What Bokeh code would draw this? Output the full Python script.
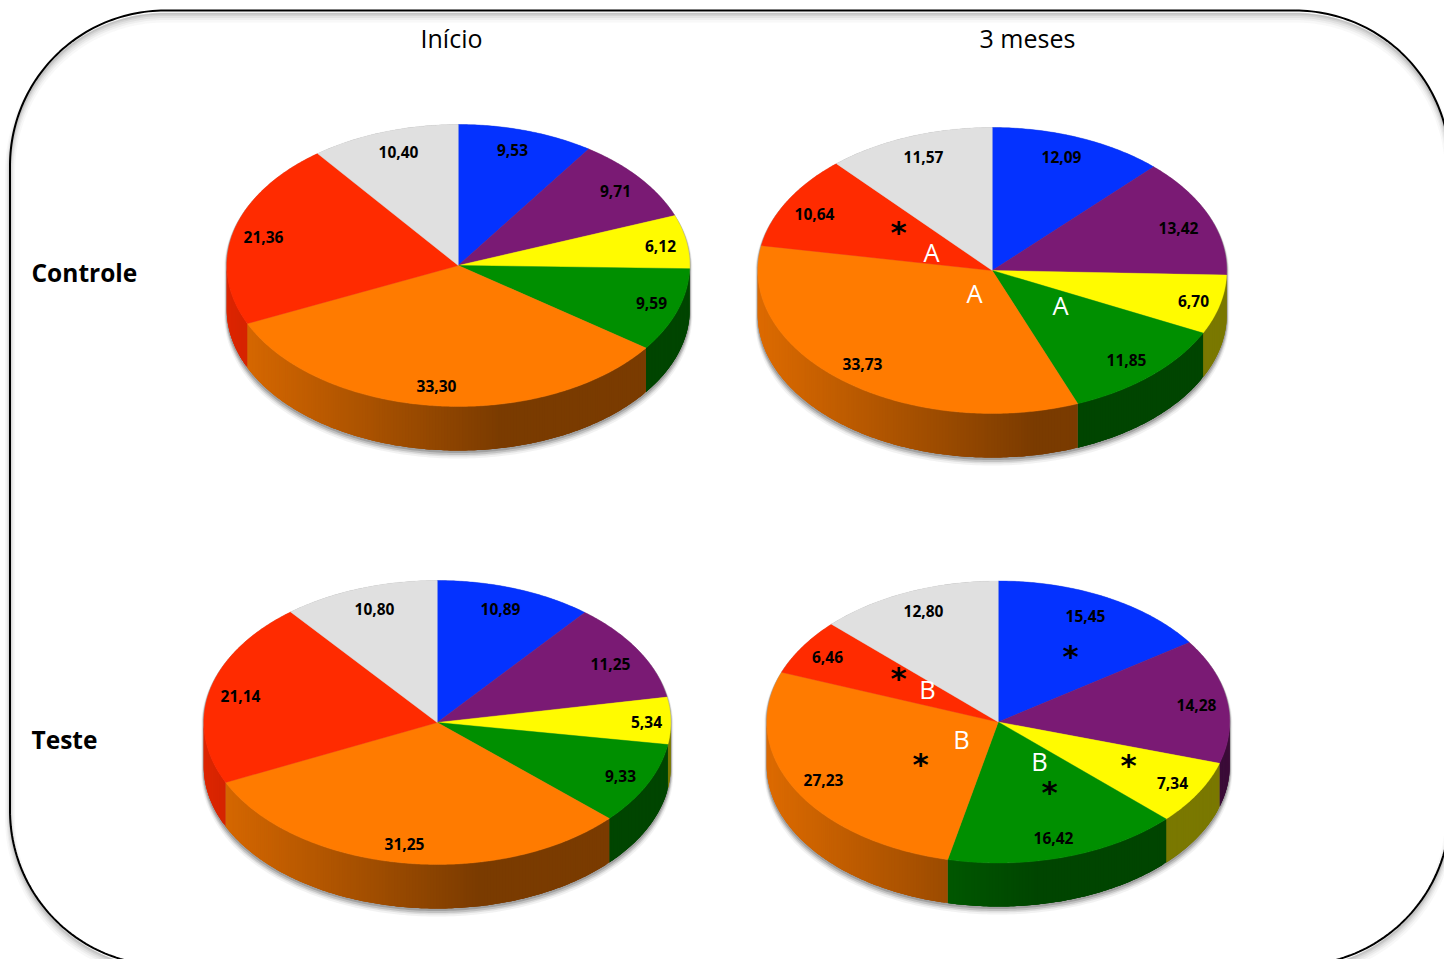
import numpy as np
from bokeh.core.properties import value
from bokeh.embed import file_html
from bokeh.models import Range1d
from bokeh.plotting import figure
from bokeh.resources import INLINE

# Share of each fraction, clockwise from twelve o'clock
fractions = ["azul", "roxo", "amarelo", "verde", "laranja", "vermelho", "cinza"]
controle_inicio = [9.53, 9.71, 6.12, 9.59, 33.30, 21.36, 10.40]
controle_3m = [12.09, 13.42, 6.70, 11.85, 33.73, 10.64, 11.57]
teste_inicio = [10.89, 11.25, 5.34, 9.33, 31.25, 21.14, 10.80]
teste_3m = [15.45, 14.28, 7.34, 16.42, 27.23, 6.46, 12.80]

column_titles = ["Início", "3 meses"]
row_titles = ["Controle", "Teste"]

slice_rgb = [(4, 50, 255), (122, 26, 116), (255, 251, 0), (0, 143, 0),
             (255, 123, 0), (255, 43, 0), (224, 224, 224)]

# Layout of the four discs: centre x, centre y, radius x, radius y, wall depth
discs = [
    (controle_inicio, 457.75, 265, 231.5, 141, 44),
    (controle_3m, 991.75, 270, 234.5, 143, 44),
    (teste_inicio, 436.75, 722, 233.5, 142, 44),
    (teste_3m, 997.75, 721.5, 231.5, 141, 43.5),
]
# Centre of each value label, per disc and per slice
label_xy = [
    [(512, 151), (615, 192), (660, 247), (651, 304), (436, 387), (263, 238), (398, 153)],
    [(1061, 158), (1178, 229), (1193, 302), (1126, 361), (862, 365), (814, 215), (923, 158)],
    [(500, 610), (610, 665), (646, 723), (620, 777), (404, 845), (240, 697), (374, 610)],
    [(1085, 617), (1196, 706), (1172, 784), (1053, 839), (823, 781), (827, 658), (923, 612)],
]
letter_marks = [("A", 931, 253), ("A", 974, 294), ("A", 1060, 306),
                ("B", 927, 690), ("B", 961, 740), ("B", 1039, 762)]
star_marks = [(898, 228), (1070, 652), (898, 674), (920, 760), (1128, 761), (1049, 788)]

FONT = value("Open Sans")
W, H = 1444, 959

p = figure(width=W, height=H, x_range=Range1d(0, W), y_range=Range1d(H, 0),
           output_backend="svg", toolbar_location=None, min_border=0,
           background_fill_color="white", border_fill_color="white")
p.axis.visible = False
p.grid.visible = False
p.outline_line_color = None


def rounded_frame(left, top, right, bottom, r):
    """Outline of a rounded rectangle as a closed list of points."""
    xs, ys = [], []
    corners = [(right - r, top + r, 0), (right - r, bottom - r, 90),
               (left + r, bottom - r, 180), (left + r, top + r, 270)]
    for cx, cy, start in corners:
        t = np.radians(np.linspace(start, start + 90, 60))
        xs.extend(cx + r * np.sin(t))
        ys.extend(cy - r * np.cos(t))
    return xs + xs[:1], ys + ys[:1]


def shade(theta_deg):
    """Brightness of the wall: lit on the left, flat and dark past the middle."""
    u = np.sin(np.radians(theta_deg))
    return float(np.clip(0.85 + (u + 0.95) * (0.48 - 0.85) / 1.13, 0.48, 0.87))


def to_hex(rgb, k=1.0):
    return "#%02x%02x%02x" % tuple(int(round(c * k)) for c in rgb)


# Frame with a soft shadow falling downwards
fx, fy = rounded_frame(9.5, 10, 1449.5, 965, 155)
for off, lw, alpha in [(7, 10, 0.04), (6, 7, 0.06), (5, 5, 0.08), (4, 3, 0.10), (3, 2, 0.12)]:
    p.line(fx, [y + off for y in fy], line_color="#555555", line_width=lw, line_alpha=alpha)
p.line(fx, fy, line_color="black", line_width=2)

for (vals, cx, cy, rx, ry, depth), places in zip(discs, label_xy):
    # Drop shadow hugging the lower rim of the disc
    t = np.radians(np.arange(0, 360.5, 1.0))
    taper = np.clip(0.5 - np.cos(t), 0, 1)
    for grow, drop, alpha in [(5, 3, 0.08), (3.5, 2.5, 0.12), (2.5, 2, 0.20), (1.5, 1, 0.30)]:
        hx = cx + (rx + grow * taper) * np.sin(t)
        hy = cy - (ry + grow * taper) * np.cos(t) + np.where(np.cos(t) < 0, depth + drop, 0)
        p.patch(hx, hy, fill_color="#555555", fill_alpha=alpha, line_color=None)

    edges = 360.0 * np.concatenate([[0], np.cumsum(vals)]) / np.sum(vals)

    # Walls: thin quads along the front half of the rim, each one running under
    # its neighbour so that no seam shows between them
    qx, qy, qc = [], [], []
    for a0, a1, rgb in zip(edges[:-1], edges[1:], slice_rgb):
        lo, hi = max(a0, 90.0), min(a1, 270.0)
        if hi <= lo:
            continue
        steps = max(2, int(np.ceil((hi - lo) / 0.75)) + 1)
        grid = np.linspace(lo, hi, steps)
        for g0, g1 in zip(grid[:-1], grid[1:]):
            mid = np.radians(np.linspace(g0, min(g1 + 1.5, hi), 4))
            top_x = cx + rx * np.sin(mid)
            top_y = cy - ry * np.cos(mid)
            qx.append(list(top_x) + list(top_x[::-1]))
            qy.append(list(top_y) + list(top_y[::-1] + depth))
            qc.append(to_hex(rgb, shade((g0 + g1) / 2)))
    p.patches(qx, qy, fill_color=qc, line_color=None)

    # Top face
    sx, sy, sc = [], [], []
    for a0, a1, rgb in zip(edges[:-1], edges[1:], slice_rgb):
        grid = np.radians(np.linspace(a0, a1, max(3, int(a1 - a0) * 2)))
        sx.append([cx] + list(cx + rx * np.sin(grid)))
        sy.append([cy] + list(cy - ry * np.cos(grid)))
        sc.append(to_hex(rgb))
    p.patches(sx, sy, fill_color=sc, line_color=sc, line_width=0.4)

    # Value labels, decimal comma as printed
    p.text([q[0] for q in places], [q[1] for q in places],
           text=[f"{v:.2f}".replace(".", ",") for v in vals], y_offset=-1.5,
           text_font=FONT, text_font_style="bold", text_font_size="15.5px",
           text_color="black", text_align="center", text_baseline="middle")

# Group letters and significance stars
p.text([m[1] for m in letter_marks], [m[2] for m in letter_marks],
       text=[m[0] for m in letter_marks], y_offset=-2, text_font=FONT, text_font_size="25.5px",
       text_color="white", text_align="center", text_baseline="middle")
p.text([s[0] for s in star_marks], [s[1] for s in star_marks],
       text=["*"] * len(star_marks), y_offset=3.5, text_font=value("DejaVu Sans"),
       text_font_style="bold", text_font_size="31px", text_color="black",
       text_align="center", text_baseline="middle")

# Column and row headings
p.text([451, 1027], [39, 39], y_offset=-2, text=column_titles, text_font=FONT, text_font_size="25px",
       text_color="black", text_align="center", text_baseline="middle")
p.text([31, 31], [273, 740], y_offset=-1, text=row_titles, text_font=FONT, text_font_style="bold",
       text_font_size="24.5px", text_color="black", text_align="left", text_baseline="middle")

open("out.html", "w").write(file_html(p, INLINE))
